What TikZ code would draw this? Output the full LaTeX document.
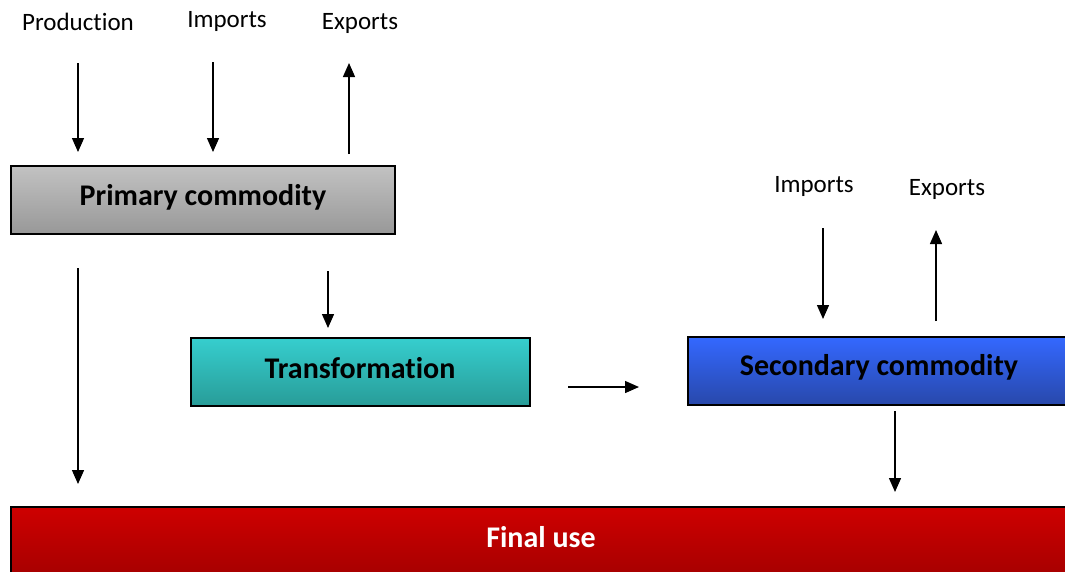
\documentclass[tikz,border=0pt]{standalone}
\usepackage{fontspec}
\setmainfont{Carlito}[Ligatures={NoCommon}]
\usetikzlibrary{arrows.meta}
\begin{document}
\begin{tikzpicture}[x=1pt,y=-1pt,
  lbl/.style={font=\fontsize{25}{28}\selectfont, inner sep=0pt},
  boxtxt/.style={font=\bfseries\fontsize{30}{34}\selectfont, inner sep=0pt},
  box/.style={draw=black, line width=1.8pt},
  arr/.style={line width=1.4pt, -{Triangle[length=14pt,width=12pt]}}]
\clip (0,0) rectangle (1065,571);
\fill[white] (0,0) rectangle (1065,571);
% boxes
\shade[box, top color={rgb,255:red,194;green,194;blue,194}, bottom color={rgb,255:red,152;green,152;blue,152}] (11,166) rectangle (395,234);
\node[boxtxt] (prim) at (203,197) {Primary commodity};
\shade[box, top color={rgb,255:red,54;green,206;blue,206}, bottom color={rgb,255:red,40;green,156;blue,152}] (191,338) rectangle (530,406);
\node[boxtxt] (trans) at (360,368) {Transformation};
\shade[box, top color={rgb,255:red,52;green,104;blue,255}, bottom color={rgb,255:red,40;green,72;blue,170}] (688,337) rectangle (1075,405);
\node[boxtxt] (sec) at (879,367) {Secondary commodity};
\shade[box, top color={rgb,255:red,206;green,0;blue,0}, bottom color={rgb,255:red,158;green,0;blue,0}] (11,507) rectangle (1080,590);
\node[boxtxt, white] (fin) at (541,537) {Final use};
% labels
\node[lbl] (prod) at (78,22) {Production};
\node[lbl] (imp1) at (227,21) {Imports};
\node[lbl] (exp1) at (360,23) {Exports};
\node[lbl] (imp2) at (814,186) {Imports};
\node[lbl] (exp2) at (947,189) {Exports};
% coordinates
\coordinate (a1s) at (78,63); \coordinate (a1e) at (78,152);
\coordinate (a2s) at (213,62); \coordinate (a2e) at (213,152);
\coordinate (a3s) at (349,154); \coordinate (a3e) at (349,63);
\coordinate (a4s) at (78,268); \coordinate (a4e) at (78,484);
\coordinate (a5s) at (328,271); \coordinate (a5e) at (328,328);
\coordinate (a6s) at (568,387); \coordinate (a6e) at (639,387);
\coordinate (a7s) at (823,228); \coordinate (a7e) at (823,319);
\coordinate (a8s) at (936,321); \coordinate (a8e) at (936,230);
\coordinate (a9s) at (895,411); \coordinate (a9e) at (895,492);
\foreach \i in {1,...,9} {\draw[arr] (a\i s) -- (a\i e);}
\end{tikzpicture}
\end{document}
